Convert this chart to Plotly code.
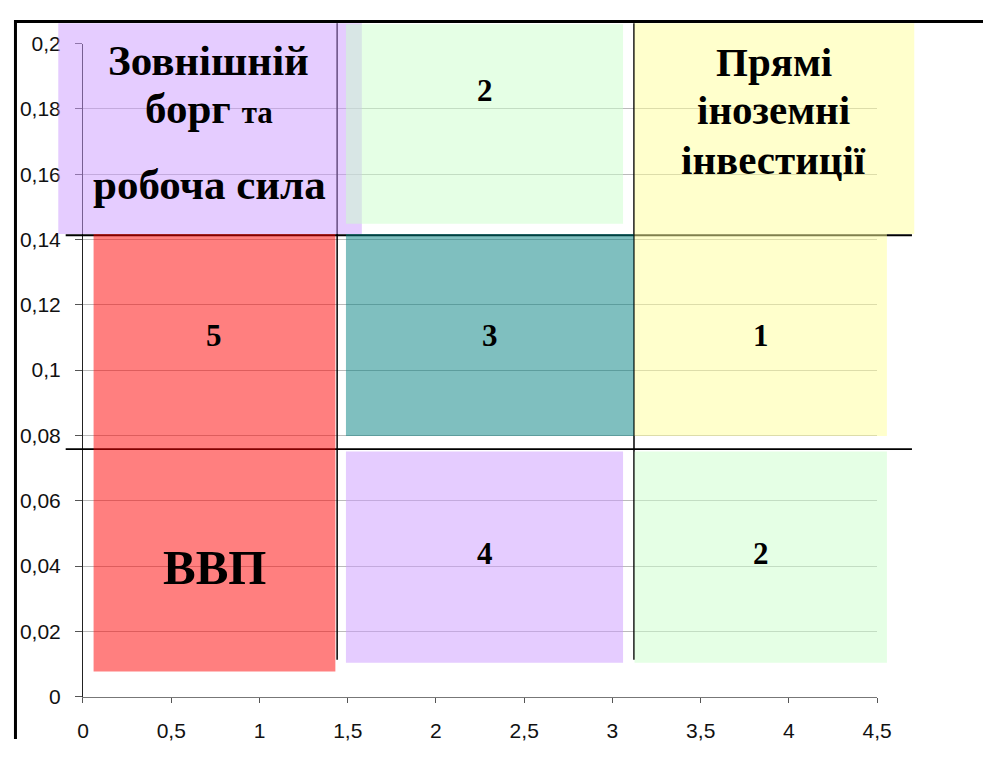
import plotly.graph_objects as go

# ---------------- data ----------------
# rectangles (data units): left, right, bottom, top
rect_names = ["debt_labour", "top_mid", "fdi", "gdp", "mid_mid", "mid_right", "bottom_mid", "bottom_right"]
rect_x0 = [-0.14, 1.49, 3.125, 0.06, 1.49, 3.125, 1.49, 3.125]
rect_x1 = [1.58, 3.06, 4.71, 1.43, 3.12, 4.555, 3.06, 4.555]
rect_y0 = [0.1417, 0.1448, 0.1417, 0.0077, 0.0798, 0.0798, 0.0104, 0.0104]
rect_y1 = [0.2062, 0.2059, 0.2062, 0.1417, 0.1417, 0.1417, 0.0751, 0.0751]
rect_base = ["#CC99FF", "#CCFFCC", "#FFFF99", "#FF0000", "#008080", "#FFFF99", "#CC99FF", "#CCFFCC"]

# rank numbers shown in rectangles
rank_rect = [1, 3, 4, 5, 6, 7]
rank_text = ["2", "5", "3", "1", "4", "2"]
rank_y = [0.1857, 0.1105, 0.1105, 0.1105, 0.0437, 0.0437]

# dividing lines
hline_y = [0.1413, 0.0758]
hline_x = [-0.098, 4.697]
vline_x = [1.440, 3.122]
vline_y = [0.0113, 0.2062]

# axis ticks
x_tickvals = [0, 0.5, 1, 1.5, 2, 2.5, 3, 3.5, 4, 4.5]
x_ticktext = ["0", "0,5", "1", "1,5", "2", "2,5", "3", "3,5", "4", "4,5"]
y_tickvals = [0, 0.02, 0.04, 0.06, 0.08, 0.1, 0.12, 0.14, 0.16, 0.18, 0.2]
y_ticktext = ["0", "0,02", "0,04", "0,06", "0,08", "0,1", "0,12", "0,14", "0,16", "0,18", "0,2"]
x_range = [0, 4.5]
y_range = [0, 0.2]

# big labels: text, x, y
big_text = ["Зовнішній", "борг <span style='font-size:31px'>та</span>", "робоча сила",
            "Прямі", "іноземні", "інвестиції", "ВВП"]
big_x = [0.713, 0.713, 0.719, 3.913, 3.913, 3.913, 0.743]
big_y = [0.1949, 0.1800, 0.1567, 0.1943, 0.1796, 0.1644, 0.0397]
big_size = [43, 43, 43, 41, 41, 41, 49]

# ---------------- layout geometry ----------------
OFF = 8                          # page margin around the figure
W, H = 990, 742                  # figure size so the page fits the window
# target screen pixels of the axis ends (x=0, x=4.5, y=0, y=0.2)
T_X0, T_X1 = 83.3, 876.3
T_Y0, T_Y1 = 698.0, 43.3
# observed display mapping (screen = a*page + b), compensated here
AX, BX = 0.9773, 6.6
AY, BY = 0.9714, 11.9

fx0 = (T_X0 - BX) / AX - OFF
fx1 = (T_X1 - BX) / AX - OFF
fy0 = (T_Y0 - BY) / AY - OFF
fy1 = (T_Y1 - BY) / AY - OFF
sx = (fx1 - fx0) / (x_range[1] - x_range[0])
sy = (fy0 - fy1) / (y_range[1] - y_range[0])
x2_range = [x_range[0] - fx0 / sx, x_range[0] + (W - fx0) / sx]
y2_range = [y_range[0] - (H - fy0) / sy, y_range[0] + fy0 / sy]


def rgba(hex_color, a):
    h = hex_color.lstrip("#")
    r, g, b = int(h[0:2], 16), int(h[2:4], 16), int(h[4:6], 16)
    return f"rgba({r},{g},{b},{a})"


fig = go.Figure()
fig.add_trace(go.Scatter(x=[None], y=[None], xaxis="x", yaxis="y", showlegend=False, hoverinfo="skip"))
fig.add_trace(go.Scatter(x=[None], y=[None], xaxis="x2", yaxis="y2", showlegend=False, hoverinfo="skip"))

shapes = []
for yv in hline_y:
    shapes.append(dict(type="line", xref="x2", yref="y2", x0=hline_x[0], x1=hline_x[1], y0=yv, y1=yv,
                       line=dict(color="#000000", width=1.8), layer="above"))
for xv in vline_x:
    shapes.append(dict(type="line", xref="x2", yref="y2", x0=xv, x1=xv, y0=vline_y[0], y1=vline_y[1],
                       line=dict(color="#000000", width=1.5), layer="above"))
for i in range(len(rect_names)):
    shapes.append(dict(type="rect", xref="x2", yref="y2",
                       x0=rect_x0[i], x1=rect_x1[i], y0=rect_y0[i], y1=rect_y1[i],
                       fillcolor=rgba(rect_base[i], 0.5), line=dict(width=0), layer="above"))
# outer frame
shapes.append(dict(type="line", xref="paper", yref="paper", x0=0, x1=1, y0=1 - 1.5 / H, y1=1 - 1.5 / H,
                   line=dict(color="#000000", width=3)))
shapes.append(dict(type="line", xref="paper", yref="paper", x0=1.5 / W, x1=1.5 / W, y0=0, y1=1,
                   line=dict(color="#000000", width=3)))

annotations = []
for k, ri in enumerate(rank_rect):
    annotations.append(dict(xref="x2", yref="y2", x=(rect_x0[ri] + rect_x1[ri]) / 2, y=rank_y[k],
                            text="<b>" + rank_text[k] + "</b>", showarrow=False,
                            font=dict(family="Liberation Serif", size=31, color="#000000")))
for k in range(len(big_text)):
    annotations.append(dict(xref="x2", yref="y2", x=big_x[k], y=big_y[k], text="<b>" + big_text[k] + "</b>",
                            showarrow=False,
                            font=dict(family="Liberation Serif", size=big_size[k], color="#000000")))

fig.update_layout(
    width=W, height=H,
    margin=dict(l=0, r=0, t=0, b=0),
    paper_bgcolor="#ffffff", plot_bgcolor="rgba(0,0,0,0)",
    separators=", ",
    showlegend=False,
    shapes=shapes,
    annotations=annotations,
    xaxis=dict(domain=[fx0 / W, fx1 / W], range=x_range, anchor="y",
               tickvals=x_tickvals, ticktext=x_ticktext, ticks="outside", ticklen=5, tickcolor="#555555",
               showline=True, linecolor="#777777", linewidth=1, showgrid=False, zeroline=False,
               ticklabelstandoff=10,
               tickfont=dict(family="Liberation Sans", size=21, color="#111111")),
    yaxis=dict(domain=[1 - fy0 / H, 1 - fy1 / H], range=y_range, anchor="x",
               tickvals=y_tickvals, ticktext=y_ticktext, ticks="outside", ticklen=7, tickcolor="#555555",
               showline=True, linecolor="#222222", linewidth=1, showgrid=True, gridcolor="#BBBBBB",
               gridwidth=1, zeroline=False, ticklabelstandoff=10,
               tickfont=dict(family="Liberation Sans", size=21, color="#111111")),
    xaxis2=dict(domain=[0, 1], range=x2_range, anchor="y2", visible=False),
    yaxis2=dict(domain=[0, 1], range=y2_range, anchor="x2", visible=False),
)

fig.write_html("out.html")
